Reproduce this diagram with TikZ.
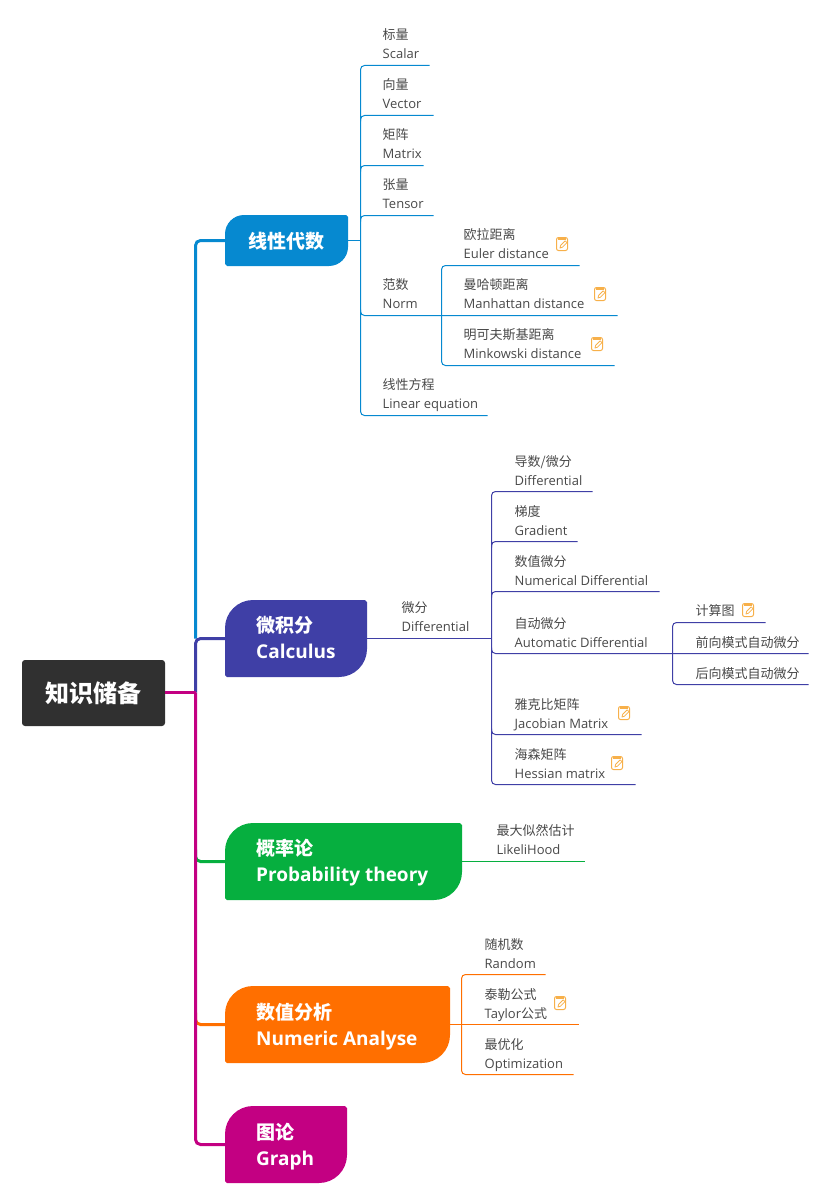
\documentclass[tikz,border=0pt]{standalone}
\usepackage{fontspec}
\setmainfont{Open Sans}
\newfontfamily\cjk{Noto Sans CJK SC}
\definecolor{cA}{HTML}{0689D0}
\definecolor{cB}{HTML}{3F3FA6}
\definecolor{cC}{HTML}{06AF3F}
\definecolor{cD}{HTML}{FF6F00}
\definecolor{cE}{HTML}{C30082}
\definecolor{cRoot}{HTML}{303030}
\definecolor{cText}{HTML}{484848}
\definecolor{cNote}{HTML}{F7B04A}
\newcommand{\leaftext}[2]{\vbox{\baselineskip=19pt\lineskiplimit=-10pt\hbox{{\cjk #1}}\hbox{#2}}}
\newcommand{\tpctext}[2]{\vbox{\baselineskip=25.5pt\lineskiplimit=-10pt\hbox{{\cjk\bfseries #1}}\hbox{\bfseries #2}}}
% name x0 y0 x1 y1 colour radius
\newcommand{\topicshape}[7]{%
  \fill[#6] ({#2+#7},#3) -- ({#4-2},#3) -- (#4,{#3+2}) -- (#4,{#5-#7})
    .. controls (#4,{#5-0.45*#7}) and ({#4-0.45*#7},#5) .. ({#4-#7},#5)
    -- ({#2+2},#5) -- (#2,{#5-2}) -- (#2,{#3+#7})
    .. controls (#2,{#3+0.45*#7}) and ({#2+0.45*#7},#3) .. ({#2+#7},#3) -- cycle;
  \node[box] (#1) at ({(#2+#4)/2},{(#3+#5)/2}) [minimum width={(#4-#2)*1pt}, minimum height={(#5-#3)*1pt}] {};%
}
\newcommand{\notemark}[2]{%
  \begin{scope}[shift={(#1,#2)}]
    \draw[cNote,line width=1pt,rounded corners=2pt] (0.5,0.5) rectangle (11.5,13.5);
    \fill[cNote] (2,0.5) rectangle (10,3);
    \draw[cNote,line width=0.8pt,line join=round] (4,11) -- (4.6,8.4) -- (9.2,3.8) -- (11,5.6) -- (6.4,10.2) -- cycle;
  \end{scope}%
}
\tikzset{
  x=1pt,y=-1pt,
  box/.style={inner sep=0pt,outer sep=0pt},
  leaf/.style={anchor=base west,inner sep=0pt,text=cText,font=\fontsize{13}{19.5}\selectfont},
  tlabel/.style={anchor=base west,inner sep=0pt,text=white,font=\fontsize{19}{26}\selectfont},
  thin link/.style={line width=1pt,rounded corners=4pt},
  main link/.style={line width=3pt,rounded corners=5pt},
}
\begin{document}
\begin{tikzpicture}
\useasboundingbox (0,0) rectangle (829,1204);

% topics and root
\fill[cRoot,rounded corners=3pt] (22,660) rectangle (165,726);
\node[box,minimum width=143pt,minimum height=66pt,text=white,font=\fontsize{24}{28}\selectfont\cjk\bfseries] (root) at (93.5,693) {知识储备};
\topicshape{t1}{225}{215}{348}{266}{cA}{19}
\topicshape{t2}{225}{600}{367}{677}{cB}{28}
\topicshape{t3}{225}{823}{462}{900}{cC}{28}
\topicshape{t4}{225}{986}{450}{1063}{cD}{28}
\topicshape{t5}{225}{1106}{347}{1183}{cE}{28}
\node[tlabel] (t1l) at (248,248) {{\cjk\bfseries 线性代数}};
\node[tlabel] (t2l) at (256,658) {\tpctext{微积分}{Calculus}};
\node[tlabel] (t3l) at (256,881) {\tpctext{概率论}{Probability theory}};
\node[tlabel] (t4l) at (256,1045) {\tpctext{数值分析}{Numeric Analyse}};
\node[tlabel] (t5l) at (256,1165) {\tpctext{图论}{Graph}};

\begin{scope}[shift={(0.5,0.5)}]
% main spine coordinates
\coordinate (j) at (195,692);
\coordinate (topj) at (195,240);
\coordinate (botj) at (195,1144);
\coordinate (cal) at (195,638);
\coordinate (pro) at (195,861);
\coordinate (num) at (195,1024);

% main links
\draw[main link,cA] (t1.west |- topj) -- (topj) -- (cal);
\draw[main link,cC] (t3.west |- pro) -- (pro) -- ([yshift=12pt]pro);
\draw[main link,cD] (t4.west |- num) -- (num) -- ([yshift=12pt]num);
\draw[main link,cB] (t2.west |- cal) -- (cal) -- (j);
\draw[line width=3pt,cE] (root.east |- j) -- (j);
\draw[main link,cE] (j) -- (botj) -- (t5.west |- botj);

% linear algebra
\coordinate (As) at (360,240);
\coordinate (A1a) at (360,65);  \coordinate (A1b) at (429,65);
\coordinate (A2a) at (360,115); \coordinate (A2b) at (433,115);
\coordinate (A3a) at (360,165); \coordinate (A3b) at (423,165);
\coordinate (A4a) at (360,215); \coordinate (A4b) at (433,215);
\coordinate (A5a) at (360,315); \coordinate (A5b) at (617,315);
\coordinate (A6a) at (360,415); \coordinate (A6b) at (487,415);
\draw[thin link,cA] (A1b) -- (A1a) -- (A6a) -- (A6b);
\draw[thin link,cA] (A2b) -- (A2a) -- ++(0,6);
\draw[thin link,cA] (A3b) -- (A3a) -- ++(0,6);
\draw[thin link,cA] (A4b) -- (A4a) -- ++(0,6);
\draw[thin link,cA] (A5b) -- (A5a) -- ++(0,-6);
\draw[line width=1pt,cA] (t1.east |- As) -- (As);
\coordinate (N1a) at (441,265); \coordinate (N1b) at (579,265);
\coordinate (N3a) at (441,365); \coordinate (N3b) at (614,365);
\draw[thin link,cA] (N1b) -- (N1a) -- (N3a) -- (N3b);
\node[leaf] (a1) at (382,58) {\leaftext{标量}{Scalar}};
\node[leaf] (a2) at (382,108) {\leaftext{向量}{Vector}};
\node[leaf] (a3) at (382,158) {\leaftext{矩阵}{Matrix}};
\node[leaf] (a4) at (382,208) {\leaftext{张量}{Tensor}};
\node[leaf] (a5) at (382,308) {\leaftext{范数}{Norm}};
\node[leaf] (a6) at (382,408) {\leaftext{线性方程}{Linear equation}};
\node[leaf] (n1) at (463,258) {\leaftext{欧拉距离}{Euler distance}};
\node[leaf] (n2) at (463,308) {\leaftext{曼哈顿距离}{Manhattan distance}};
\node[leaf] (n3) at (463,358) {\leaftext{明可夫斯基距离}{Minkowski distance}};

% calculus
\coordinate (Ca) at (491,638);
\draw[line width=1pt,cB] (t2.east |- Ca) -- (Ca);
\node[leaf] (c0) at (401,631) {\leaftext{微分}{Differential}};
\coordinate (C1a) at (491,491); \coordinate (C1b) at (592,491);
\coordinate (C2a) at (491,541); \coordinate (C2b) at (577,541);
\coordinate (C3a) at (491,591); \coordinate (C3b) at (659,591);
\coordinate (C4a) at (491,653); \coordinate (C4b) at (808,653);
\coordinate (C5a) at (491,734); \coordinate (C5b) at (641,734);
\coordinate (C6a) at (491,784); \coordinate (C6b) at (635,784);
\draw[thin link,cB] (C1b) -- (C1a) -- (C6a) -- (C6b);
\draw[thin link,cB] (C2b) -- (C2a) -- ++(0,6);
\draw[thin link,cB] (C3b) -- (C3a) -- ++(0,6);
\draw[thin link,cB] (C4b) -- (C4a) -- ++(0,-6);
\draw[thin link,cB] (C5b) -- (C5a) -- ++(0,-6);
\coordinate (D1a) at (672,622); \coordinate (D1b) at (765,622);
\coordinate (D3a) at (672,684); \coordinate (D3b) at (808,684);
\draw[thin link,cB] (D1b) -- (D1a) -- (D3a) -- (D3b);
\node[leaf] (c1) at (514,485) {\leaftext{导数/微分}{Differential}};
\node[leaf] (c2) at (514,535) {\leaftext{梯度}{Gradient}};
\node[leaf] (c3) at (514,585) {\leaftext{数值微分}{Numerical Differential}};
\node[leaf] (c4) at (514,647) {\leaftext{自动微分}{Automatic Differential}};
\node[leaf] (c5) at (514,728) {\leaftext{雅克比矩阵}{Jacobian Matrix}};
\node[leaf] (c6) at (514,778) {\leaftext{海森矩阵}{Hessian matrix}};
\node[leaf,font=\fontsize{13}{19.5}\selectfont\cjk] (d1) at (695,615) {计算图};
\node[leaf,font=\fontsize{13}{19.5}\selectfont\cjk] (d2) at (695,647) {前向模式自动微分};
\node[leaf,font=\fontsize{13}{19.5}\selectfont\cjk] (d3) at (695,678) {后向模式自动微分};

% probability
\coordinate (Pb) at (584,861);
\draw[line width=1pt,cC] (t3.east |- Pb) -- (Pb);
\node[leaf] (p1) at (496,854) {\leaftext{最大似然估计}{LikeliHood}};

% numeric
\coordinate (M1x) at (461,974);  \coordinate (M1y) at (545,974);
\coordinate (M2x) at (461,1024); \coordinate (M2y) at (578,1024);
\coordinate (M3x) at (461,1074); \coordinate (M3y) at (573,1074);
\draw[line width=1pt,cD] (t4.east |- M2x) -- (M2y);
\draw[thin link,cD] (M1y) -- (M1x) -- (M3x) -- (M3y);
\node[leaf] (m1) at (484,968) {\leaftext{随机数}{Random}};
\node[leaf] (m2) at (484,1018) {\leaftext{泰勒公式}{Taylor{\cjk 公式}}};
\node[leaf] (m3) at (484,1068) {\leaftext{最优化}{Optimization}};
\end{scope}

\notemark{556}{237}
\notemark{594}{287}
\notemark{591}{337}
\notemark{742}{603}
\notemark{618}{706}
\notemark{611}{756}
\notemark{554}{996}
\end{tikzpicture}
\end{document}
